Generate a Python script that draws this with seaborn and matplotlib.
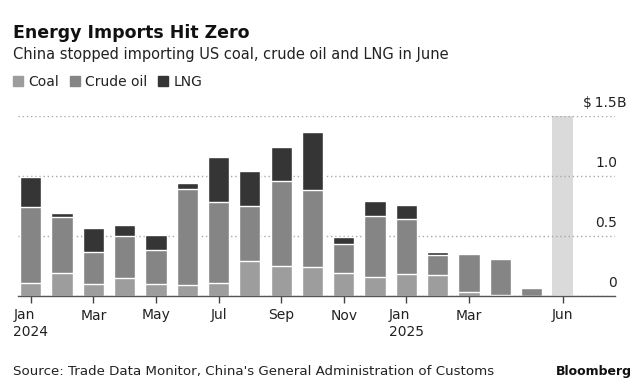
import matplotlib
matplotlib.use("Agg")
import matplotlib.pyplot as plt
import matplotlib.transforms as mtransforms
from matplotlib.patches import Patch
import pandas as pd
import seaborn as sns

# --- data (US$ billions) ---
months = ["Jan 2024", "Feb 2024", "Mar 2024", "Apr 2024", "May 2024", "Jun 2024",
          "Jul 2024", "Aug 2024", "Sep 2024", "Oct 2024", "Nov 2024", "Dec 2024",
          "Jan 2025", "Feb 2025", "Mar 2025", "Apr 2025", "May 2025", "Jun 2025"]
coal = [0.11, 0.19, 0.10, 0.15, 0.10, 0.09, 0.11, 0.29, 0.25, 0.24, 0.19, 0.16,
        0.18, 0.175, 0.03, 0.01, 0.0, 0.0]
crude = [0.63, 0.47, 0.27, 0.35, 0.28, 0.80, 0.67, 0.46, 0.71, 0.64, 0.24, 0.51,
         0.46, 0.165, 0.32, 0.30, 0.07, 0.0]
lng = [0.25, 0.03, 0.20, 0.09, 0.13, 0.05, 0.38, 0.29, 0.28, 0.49, 0.06, 0.12,
       0.12, 0.03, 0.0, 0.0, 0.0, 0.0]
tick_months = ["Jan 2024", "Mar 2024", "May 2024", "Jul 2024", "Sep 2024",
               "Nov 2024", "Jan 2025", "Mar 2025", "Jun 2025"]
tick_labels = ["Jan\n2024", "Mar", "May", "Jul", "Sep", "Nov", "Jan\n2025", "Mar", "Jun"]
highlight_month = "Jun 2025"
yticks = [0, 0.5, 1.0, 1.5]
ytick_labels = ["0", "0.5", "1.0", "$\u20091.5"]

COAL_C = "#9d9d9d"
CRUDE_C = "#858585"
LNG_C = "#353535"
HL_C = "#dadada"
TXT = "#222222"

df = pd.DataFrame({"month": months, "coal": coal, "crude": crude, "lng": lng})
df["coal_crude"] = df["coal"] + df["crude"]
df["total"] = df["coal_crude"] + df["lng"]

sns.set_style("white")
plt.rcParams["font.family"] = ["DejaVu Sans"]

fig = plt.figure(figsize=(6.44, 3.92), dpi=100)
W, H = 644, 392
ax = fig.add_axes([18 / W, 1 - 296 / H, (615 - 18) / W, (296 - 116) / H])

# stacked bars drawn as overlapping cumulative totals
bar_kw = dict(x="month", width=0.68, saturation=1, errorbar=None, ax=ax, zorder=2)
sns.barplot(data=df, y="total", color=LNG_C, **bar_kw)
sns.barplot(data=df, y="coal_crude", color=CRUDE_C, **bar_kw)
sns.barplot(data=df, y="coal", color=COAL_C, **bar_kw)

# highlight band for the month imports stopped
hl = months.index(highlight_month)
ax.axvspan(hl - 0.34, hl + 0.34, color=HL_C, zorder=0.2, lw=0)

ax.set_xlim(-0.41, 18.67)
ax.set_ylim(0, 1.5)
ax.set_xlabel("")
ax.set_ylabel("")

ax.set_axisbelow(True)
ax.set_yticks(yticks)
ax.yaxis.grid(True, linestyle=(0, (1, 2)), color="#a8a8a8", lw=1)
ax.tick_params(axis="y", left=False, right=False, labelleft=False, labelright=False)

ax.set_xticks([months.index(m) for m in tick_months])
ax.set_xticklabels(tick_labels, fontsize=10, color=TXT)
for lab in ax.get_xticklabels():
    lab.set_multialignment("left")
ax.tick_params(axis="x", bottom=True, length=5, width=1, color="#444444", pad=4)

for s in ["top", "left", "right"]:
    ax.spines[s].set_visible(False)
ax.spines["bottom"].set_color("#555555")
ax.spines["bottom"].set_linewidth(1)

# y labels sit above the gridlines on the right
trans = mtransforms.blended_transform_factory(ax.transAxes, ax.transData)
lab_x = (617 - 18) / (615 - 18)
for v, t in zip(yticks, ytick_labels):
    tr = mtransforms.offset_copy(trans, fig=fig, x=0, y=6.2, units="points")
    ax.text(lab_x, v, t, transform=tr, ha="right", va="baseline",
            fontsize=10, color=TXT, clip_on=False)
    if v == yticks[-1]:
        ax.text(lab_x, v, "B", transform=tr, ha="left", va="baseline",
                fontsize=10, color=TXT, clip_on=False)

# titles
fig.text(13 / W, 1 - 38.5 / H, "Energy Imports Hit Zero", fontsize=12.5,
         fontweight="bold", color="#111111", va="baseline")
fig.text(13 / W, 1 - 58.5 / H,
         "China stopped importing US coal, crude oil and LNG in June",
         fontsize=10.5, color=TXT, va="baseline")

handles = [Patch(color=COAL_C, label="Coal"),
           Patch(color=CRUDE_C, label="Crude oil"),
           Patch(color=LNG_C, label="LNG")]
fig.legend(handles=handles, loc="center left", bbox_to_anchor=(13 / W, 1 - 82 / H),
           ncol=3, frameon=False, fontsize=10, handlelength=0.72, handleheight=0.72,
           handletextpad=0.4, columnspacing=0.75, borderaxespad=0, borderpad=0,
           labelcolor=TXT)

fig.text(13 / W, 1 - 374.5 / H,
         "Source: Trade Data Monitor, China's General Administration of Customs",
         fontsize=9.6, color=TXT, va="baseline")
fig.text(632 / W, 1 - 374.5 / H, "Bloomberg", fontsize=9, fontweight="bold",
         color="#111111", va="baseline", ha="right")

fig.savefig("out.png", dpi=100)
